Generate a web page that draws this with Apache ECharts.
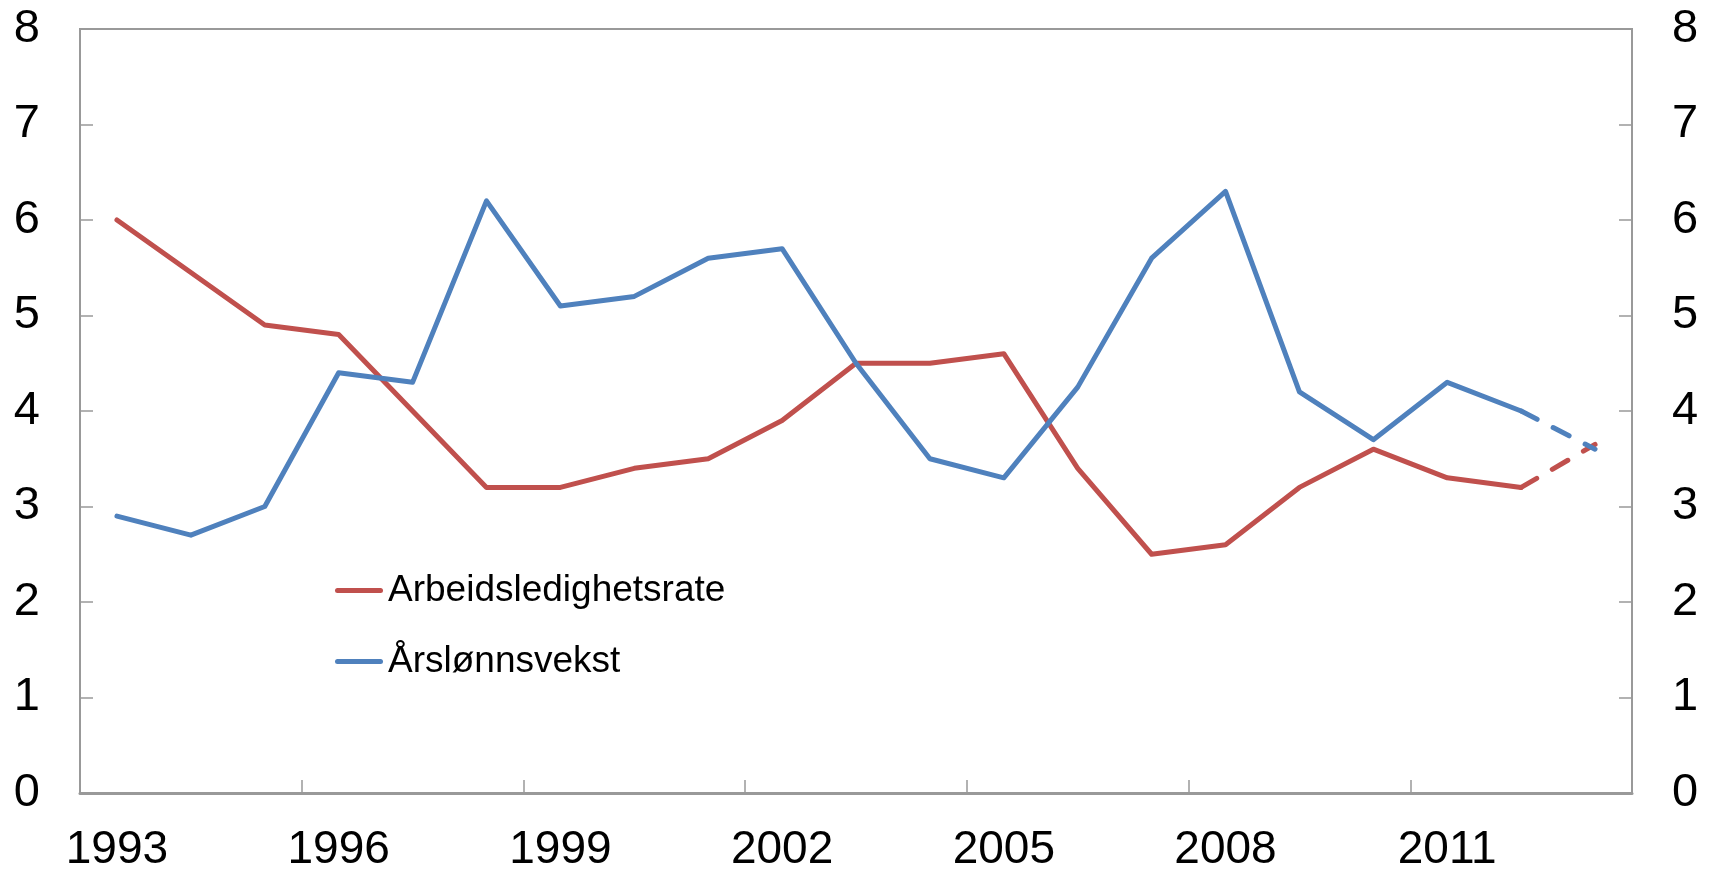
<!DOCTYPE html>
<html>
<head>
<meta charset="utf-8">
<script src="https://cdn.jsdelivr.net/npm/echarts@6/dist/echarts.min.js"></script>
<style>
html,body{margin:0;padding:0;background:#fff;}
#chart{width:1713px;height:873px;}
</style>
</head>
<body>
<div id="chart"></div>
<script>
const years = ['1993','1994','1995','1996','1997','1998','1999','2000','2001','2002','2003','2004','2005','2006','2007','2008','2009','2010','2011','2012','2013'];
const unemployment = [6.0, 5.45, 4.9, 4.8, 4.0, 3.2, 3.2, 3.4, 3.5, 3.9, 4.5, 4.5, 4.6, 3.4, 2.5, 2.6, 3.2, 3.6, 3.3, 3.2, 3.65];
const wageGrowth = [2.9, 2.7, 3.0, 4.4, 4.3, 6.2, 5.1, 5.2, 5.6, 5.7, 4.5, 3.5, 3.3, 4.25, 5.6, 6.3, 4.2, 3.7, 4.3, 4.0, 3.6];
const yTicks = [0, 1, 2, 3, 4, 5, 6, 7, 8];
const lastActual = 19; // 2012; after this the values are projections (dashed)

const seriesNames = ['Arbeidsledighetsrate', 'Årslønnsvekst'];
const colors = ['#C0504D', '#4F81BD'];

function solidPart(arr){ return arr.map((v,i)=> i<=lastActual ? v : null); }
function dashedPart(arr){ return arr.map((v,i)=> i>=lastActual ? v : null); }

const font = 'Liberation Sans, Arial, sans-serif';
const axisGray = '#999999';
const LW = 5;

const chart = echarts.init(document.getElementById('chart'), null, {renderer:'canvas'});

function yAxisDef(pos){
  return {
    type:'value', position:pos, min:yTicks[0], max:yTicks[yTicks.length-1], interval:1,
    axisLine:{show:true, lineStyle:{color:axisGray, width:2}},
    axisTick:{show:true, inside:true, length:13, lineStyle:{color:axisGray, width:1.5}},
    splitLine:{show:false},
    axisLabel:{color:'#000', fontSize:47, fontFamily:font, margin:40}
  };
}

const series = [];
[unemployment, wageGrowth].forEach((arr, k)=>{
  series.push({
    name: seriesNames[k], type:'line', data: solidPart(arr), symbol:'none', showSymbol:false,
    lineStyle:{color:colors[k], width:LW, cap:'round', join:'round'},
    itemStyle:{color:colors[k]}, z: 2+k, animation:false
  });
  series.push({
    name: seriesNames[k] + ' (anslag)', type:'line', data: dashedPart(arr), symbol:'none', showSymbol:false,
    lineStyle:{color:colors[k], width:LW, type:[18,18], cap:'round'},
    itemStyle:{color:colors[k]}, z: 2+k, animation:false
  });
});

const legendIcon = 'path://M2.5,0H45.5A2.5,2.5,0,0,1,45.5,5H2.5A2.5,2.5,0,0,1,2.5,0Z';

chart.setOption({
  animation:false,
  backgroundColor:'#fff',
  grid:{left:80, right:81, top:29, bottom:80, show:true, borderColor:axisGray, borderWidth:2, backgroundColor:'transparent'},
  legend:{
    data: seriesNames.map((n,k)=>({name:n, icon:legendIcon, itemStyle:{color:colors[k]}})),
    orient:'vertical', left:330, top:567,
    itemWidth:48, itemHeight:36, itemGap:34,
    textStyle:{fontSize:37, fontFamily:font, color:'#000', lineHeight:36},
    selectedMode:false
  },
  xAxis:{
    type:'category', data:years, boundaryGap:true,
    axisLine:{show:true, lineStyle:{color:axisGray, width:3}},
    axisTick:{show:true, inside:true, length:13, interval:2, lineStyle:{color:axisGray, width:1.5}},
    axisLabel:{interval:2, color:'#000', fontSize:46, fontFamily:font, margin:34},
    splitLine:{show:false}
  },
  yAxis:[yAxisDef('left'), yAxisDef('right')],
  series: series
});
</script>
</body>
</html>
